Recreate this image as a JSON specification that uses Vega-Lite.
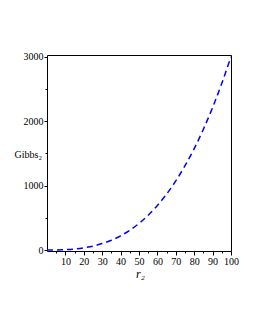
{
  "$schema": "https://vega.github.io/schema/vega-lite/v6.json",
  "width": 184,
  "height": 196,
  "autosize": {"type": "none"},
  "padding": {"left": 47, "top": 55, "right": 24, "bottom": 79},
  "background": "white",
  "config": {
    "view": {"stroke": "black", "strokeWidth": 1},
    "font": "Liberation Serif"
  },
  "data": {
    "values": [
      {"r": 0, "G": 0},
      {"r": 5, "G": 1},
      {"r": 10, "G": 6},
      {"r": 15, "G": 16},
      {"r": 20, "G": 34},
      {"r": 25, "G": 61},
      {"r": 30, "G": 100},
      {"r": 35, "G": 152},
      {"r": 40, "G": 221},
      {"r": 45, "G": 307},
      {"r": 50, "G": 412},
      {"r": 55, "G": 540},
      {"r": 60, "G": 691},
      {"r": 65, "G": 868},
      {"r": 70, "G": 1073},
      {"r": 75, "G": 1308},
      {"r": 80, "G": 1574},
      {"r": 85, "G": 1875},
      {"r": 90, "G": 2211},
      {"r": 95, "G": 2586},
      {"r": 100, "G": 3000}
    ]
  },
  "mark": {"type": "line", "color": "#0000ff", "strokeWidth": 1.5, "strokeDash": [6, 4], "interpolate": "monotone", "clip": true},
  "encoding": {
    "x": {
      "field": "r", "type": "quantitative",
      "scale": {"domain": [0, 100], "nice": false, "zero": false},
      "axis": {
        "values": [5, 10, 15, 20, 25, 30, 35, 40, 45, 50, 55, 60, 65, 70, 75, 80, 85, 90, 95, 100],
        "labelExpr": "datum.value % 10 === 0 ? datum.label : ''",
        "tickSize": {"condition": {"test": "datum.value % 10 === 0", "value": 4}, "value": 2},
        "tickColor": "black", "domain": false, "grid": false,
        "labelFont": "Liberation Serif", "labelFontSize": 10, "labelColor": "black",
        "labelPadding": 1, "labelFlush": false, "labelOverlap": false,
        "title": "r₂", "titleFont": "Liberation Serif", "titleFontStyle": "italic",
        "titleFontWeight": "normal", "titleFontSize": 12, "titleColor": "black",
        "titleX": 93, "titleY": 26, "titleBaseline": "alphabetic", "titleAlign": "center"
      }
    },
    "y": {
      "field": "G", "type": "quantitative",
      "scale": {"domain": [-15, 3026], "nice": false, "zero": false},
      "axis": {
        "values": [0, 500, 1000, 1500, 2000, 2500, 3000],
        "labelExpr": "datum.value % 1000 === 0 ? datum.label : ''",
        "format": "d",
        "tickSize": {"condition": {"test": "datum.value % 1000 === 0", "value": 3}, "value": 2},
        "tickColor": "black", "domain": false, "grid": false,
        "labelFont": "Liberation Serif", "labelFontSize": 10, "labelColor": "black",
        "labelPadding": 1, "labelFlush": false, "labelOverlap": false,
        "title": "Gibbs₂", "titleFont": "Liberation Serif", "titleFontWeight": "normal",
        "titleFontSize": 10, "titleColor": "black", "titleAngle": 0,
        "titleX": -33, "titleY": 102, "titleAlign": "left", "titleBaseline": "alphabetic"
      }
    }
  }
}
